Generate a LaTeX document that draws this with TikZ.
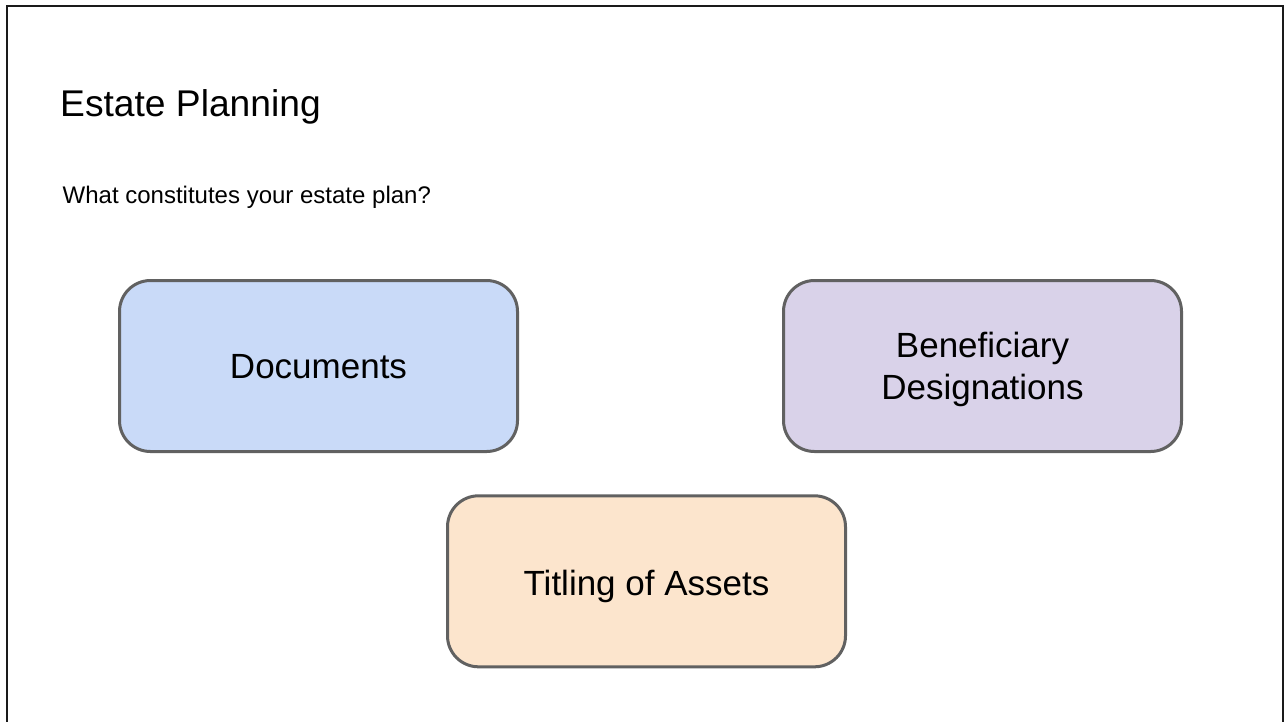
\documentclass[tikz,border=0pt]{standalone}
\usepackage{fontspec}
\setmainfont{Liberation Sans}
\definecolor{docfill}{HTML}{C9DAF8}
\definecolor{benfill}{HTML}{D9D2E9}
\definecolor{titfill}{HTML}{FCE5CD}
\definecolor{boxline}{HTML}{616161}
\definecolor{frameline}{HTML}{1A1A1A}
\tikzset{
  planbox/.style={draw=boxline, line width=3pt, rounded corners=31pt,
    minimum width=398pt, minimum height=171pt, inner sep=0pt},
  boxtext/.style={font=\fontsize{35}{42}\selectfont, inner sep=0pt, anchor=base},
  titletext/.style={font=\fontsize{37.2}{44}\selectfont, inner sep=0pt, anchor=base west},
  subtext/.style={font=\fontsize{24}{29}\selectfont, inner sep=0pt, anchor=base west},
}
\begin{document}
\begin{tikzpicture}[x=1pt, y=-1pt]
\useasboundingbox (0,0) rectangle (1284,721);
\fill[white] (0,0) rectangle (1284,721);
% frame
\coordinate (fbl) at (7,725);
\coordinate (ftl) at (7,6);
\coordinate (ftr) at (1283,6);
\coordinate (fbr) at (1283,725);
\draw[frameline, line width=2pt] (fbl) -- (ftl) -- (ftr) -- (fbr);
% title
\node[titletext] (title) at (60,116.7) {Estate Planning};
\node[subtext] (sub) at (62.5,203) {What constitutes your estate plan?};
% boxes
\node[planbox, fill=docfill] (docs) at (318.5,366) {};
\node[planbox, fill=benfill] (ben) at (982.5,366) {};
\node[planbox, fill=titfill] (tit) at (646.5,581.3) {};
% box texts
\node[boxtext] (docstxt) at (318.5,378.3) {Documents};
\node[boxtext] (bentxta) at (982.5,357) {Beneficiary};
\node[boxtext] (bentxtb) at (982.5,399) {Designations};
\node[boxtext] (tittxt) at (646.5,595) {Titling of Assets};
\end{tikzpicture}
\end{document}
